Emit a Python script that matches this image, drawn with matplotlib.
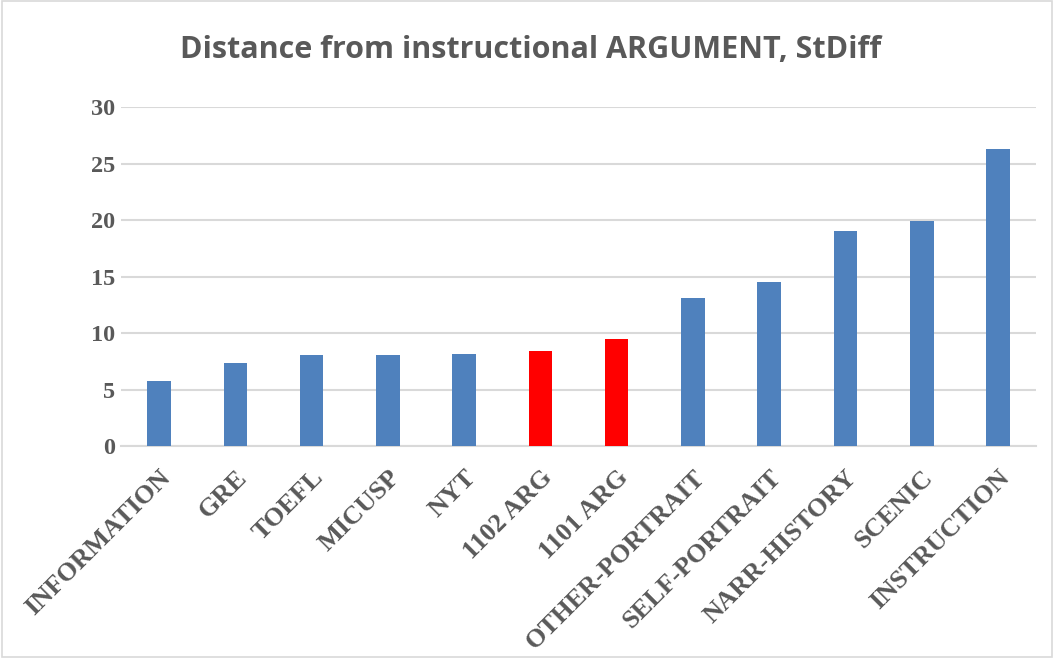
import matplotlib
matplotlib.use("Agg")
import matplotlib.pyplot as plt
from matplotlib.patches import Rectangle

categories = ["INFORMATION", "GRE", "TOEFL", "MICUSP", "NYT", "1102 ARG", "1101 ARG",
              "OTHER-PORTRAIT", "SELF-PORTRAIT", "NARR-HISTORY", "SCENIC", "INSTRUCTION"]
values = [5.73, 7.38, 8.06, 8.06, 8.12, 8.44, 9.5, 13.14, 14.55, 19.04, 19.9, 26.33]
highlight = ["1102 ARG", "1101 ARG"]
yticks = [0, 5, 10, 15, 20, 25, 30]
title = "Distance from instructional ARGUMENT, StDiff"

blue = "#4F81BD"
red = "#FF0000"
txt = "#595959"

fig = plt.figure(figsize=(10.54, 6.58), dpi=100)
fig.patches.append(Rectangle((0.002, 0.002), 0.996, 0.996, transform=fig.transFigure,
                             fill=False, edgecolor="#D9D9D9", linewidth=1.2))
ax = fig.add_axes([0.1148, 0.322, 0.983 - 0.1148, 0.837 - 0.322])

colors = [red if c in highlight else blue for c in categories]
x = list(range(len(categories)))
ax.bar(x, values, width=0.31, color=colors, zorder=3)

ax.set_xlim(-0.5, len(categories) - 0.5)
ax.set_ylim(0, 30)
ax.set_yticks(yticks)
ax.yaxis.grid(True, color="#D9D9D9", linewidth=1.5, zorder=0)
ax.set_axisbelow(True)
for s in ["top", "right", "left"]:
    ax.spines[s].set_visible(False)
ax.spines["bottom"].set_color("#D9D9D9")
ax.spines["bottom"].set_linewidth(1.5)
ax.tick_params(axis="both", length=0)
ax.tick_params(axis="y", pad=4)

ax.set_yticklabels([str(v) for v in yticks], fontfamily="Liberation Serif",
                   fontweight="bold", fontsize=17.5, color=txt)
ax.set_xticks(x)
ax.set_xticklabels(categories, rotation=45, ha="right", rotation_mode="anchor",
                   fontfamily="Liberation Serif", fontweight="bold",
                   fontsize=19, color=txt)
ax.tick_params(axis="x", pad=14)

fig.text(0.503, 0.924, title, ha="center", va="center", fontfamily="Open Sans",
         fontweight="bold", fontsize=22, color=txt)

fig.savefig("out.png", dpi=100)
